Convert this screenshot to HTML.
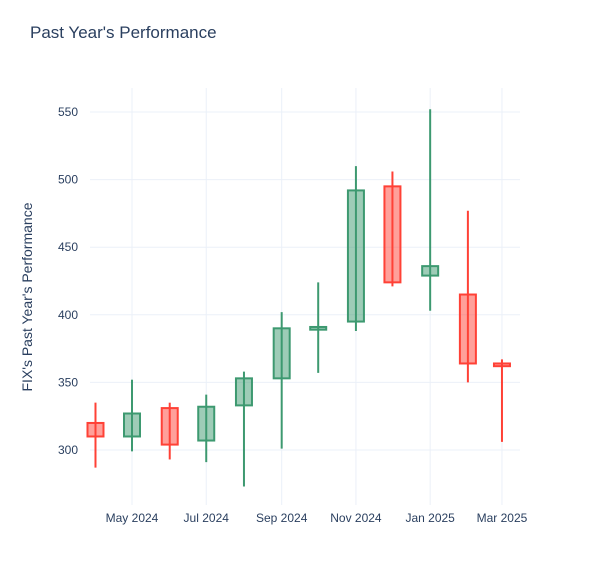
<!DOCTYPE html>
<html><head><meta charset="utf-8"><style>
body{margin:0;background:#fff;font-family:"Liberation Sans","DejaVu Sans",sans-serif;}
svg text{fill:#2a3f5f;}
</style></head><body>
<svg width="600" height="575" xmlns="http://www.w3.org/2000/svg">
<rect width="600" height="575" fill="#fff"/>
<text x="30" y="38" font-size="17">Past Year's Performance</text>
<text transform="translate(32,297) rotate(-90)" text-anchor="middle" font-size="14">FIX's Past Year's Performance</text>
<g id="grid"></g><g id="marks"></g><g id="labels"></g>
</svg>
<script>
const months = ["2024-04-01","2024-05-01","2024-06-01","2024-07-01","2024-08-01","2024-09-01","2024-10-01","2024-11-01","2024-12-01","2025-01-01","2025-02-01","2025-03-01"];
const openVals = [320,310,331,307,333,353,389,395,495,429,415,364];
const highVals = [335,352,335,341,358,402,424,510,506,552,477,367];
const lowVals = [287,299,293,291,273,301,357,388,421,403,350,306];
const closeVals = [310,327,304,332,353,390,391,492,424,436,364,362];
const yTicks = [300,350,400,450,500,550];
const xTickDates = ["2024-05-01","2024-07-01","2024-09-01","2024-11-01","2025-01-01","2025-03-01"];
const xTickLabels = ["May 2024","Jul 2024","Sep 2024","Nov 2024","Jan 2025","Mar 2025"];
const NS="http://www.w3.org/2000/svg";
const t0=Date.parse("2024-05-01");
function xs(d){return 132+(Date.parse(d)-t0)/86400000*1.217;}
function ys(v){return 450-(v-300)*1.352;}
function mk(tag,attrs,parent){const e=document.createElementNS(NS,tag);for(const k in attrs)e.setAttribute(k,attrs[k]);document.getElementById(parent).appendChild(e);return e;}
yTicks.forEach(v=>{
 const l=mk('line',{x1:90,x2:520,y1:ys(v),y2:ys(v),stroke:'#ebf0f8'},'grid');
 
 
 const t=mk('text',{x:78,y:ys(v)+4,'text-anchor':'end','font-size':12},'labels');
 t.textContent=v;
 
 
});
xTickDates.forEach((d,i)=>{
 const l=mk('line',{x1:xs(d),x2:xs(d),y1:88,y2:505,stroke:'#ebf0f8'},'grid');
 
 
 const t=mk('text',{x:xs(d),y:522,'text-anchor':'middle','font-size':12},'labels');
 t.textContent=xTickLabels[i];
 
 
});
months.forEach((m,i)=>{
 const up=closeVals[i]>=openVals[i];
 const col=up?'#3D9970':'#FF4136';
 const fill=up?'rgba(61,153,112,0.5)':'rgba(255,65,54,0.5)';
 const x=xs(m);
 const g=mk('g',{},'marks');
 
 
 const top=ys(Math.max(openVals[i],closeVals[i])),bot=ys(Math.min(openVals[i],closeVals[i]));
 const w=document.createElementNS(NS,'line');
 w.setAttribute('x1',x);w.setAttribute('x2',x);w.setAttribute('y1',ys(highVals[i]));w.setAttribute('y2',ys(lowVals[i]));
 w.setAttribute('stroke',col);w.setAttribute('stroke-width',2);g.appendChild(w);
 const r=document.createElementNS(NS,'rect');
 r.setAttribute('x',x-8);r.setAttribute('width',16);r.setAttribute('y',top);r.setAttribute('height',Math.max(bot-top,1));
 r.setAttribute('fill',fill);r.setAttribute('stroke',col);r.setAttribute('stroke-width',2);g.appendChild(r);
});
</script>
</body></html>
